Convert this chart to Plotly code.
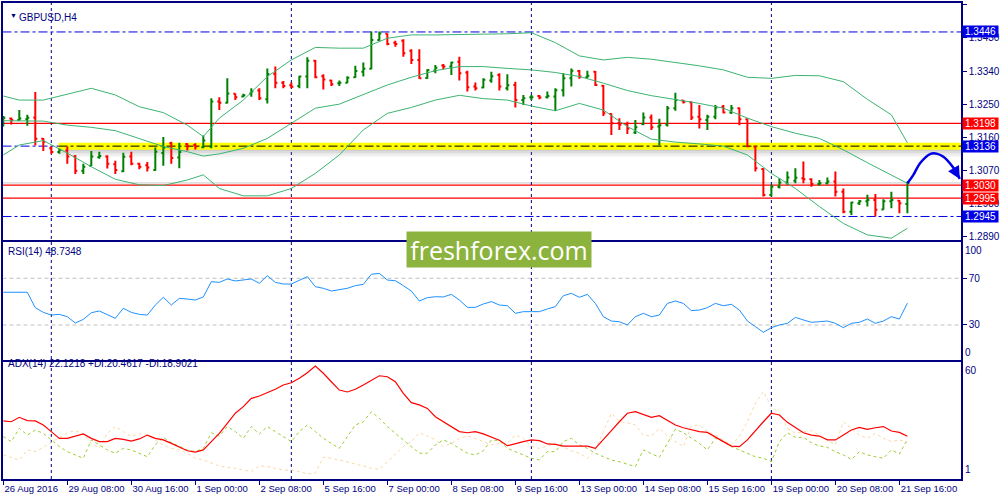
import pandas as pd
import plotly.graph_objects as go

# GBPUSD H4, 26 Aug - 21 Sep 2016
opens = [1.3207, 1.3211, 1.3207, 1.3209, 1.3214, 1.3156, 1.3130, 1.3120, 1.3124, 1.3108,
         1.3069, 1.3083, 1.3106, 1.3108, 1.3087, 1.3068, 1.3108, 1.3088, 1.3084, 1.3071,
         1.3117, 1.3144, 1.3105, 1.3142, 1.3139, 1.3133, 1.3135, 1.3257, 1.3254, 1.3278,
         1.3271, 1.3279, 1.3287, 1.3263, 1.3332, 1.3308, 1.3301, 1.3299, 1.3325, 1.3368,
         1.3326, 1.3314, 1.3307, 1.3308, 1.3323, 1.3338, 1.3346, 1.3424, 1.3441, 1.3417,
         1.3422, 1.3395, 1.3370, 1.3321, 1.3341, 1.3355, 1.3352, 1.3365, 1.3336, 1.3298,
         1.3295, 1.3314, 1.3329, 1.3293, 1.3302, 1.3261, 1.3269, 1.3272, 1.3269, 1.3271,
         1.3288, 1.3320, 1.3340, 1.3323, 1.3338, 1.3300, 1.3223, 1.3198, 1.3196, 1.3173,
         1.3196, 1.3214, 1.3189, 1.3194, 1.3239, 1.3260, 1.3255, 1.3216, 1.3207, 1.3216,
         1.3243, 1.3227, 1.3239, 1.3209, 1.3135, 1.3074, 1.3003, 1.3026, 1.3037, 1.3042,
         1.3049, 1.3046, 1.3033, 1.3035, 1.3040, 1.3012, 1.2958, 1.2981, 1.2986, 1.2990,
         1.2964, 1.2986, 1.2988, 1.2979]
highs = [1.3218, 1.3214, 1.3234, 1.3221, 1.3283, 1.3158, 1.3135, 1.3129, 1.3135, 1.3112,
         1.3088, 1.3123, 1.3121, 1.3111, 1.3096, 1.3118, 1.3121, 1.3091, 1.3093, 1.3132,
         1.3161, 1.3148, 1.3145, 1.3144, 1.3144, 1.3165, 1.3266, 1.3269, 1.3320, 1.3279,
         1.3278, 1.3293, 1.3293, 1.3347, 1.3352, 1.3313, 1.3309, 1.3327, 1.3377, 1.3370,
         1.3331, 1.3316, 1.3314, 1.3326, 1.3354, 1.3363, 1.3447, 1.3447, 1.3442, 1.3422,
         1.3426, 1.3399, 1.3399, 1.3345, 1.3356, 1.3359, 1.3365, 1.3379, 1.3341, 1.3309,
         1.3320, 1.3338, 1.3334, 1.3331, 1.3311, 1.3275, 1.3275, 1.3275, 1.3284, 1.3293,
         1.3334, 1.3347, 1.3343, 1.3341, 1.3340, 1.3302, 1.3225, 1.3212, 1.3202, 1.3207,
         1.3227, 1.3222, 1.3210, 1.3245, 1.3281, 1.3261, 1.3257, 1.3248, 1.3221, 1.3248,
         1.3248, 1.3248, 1.3241, 1.3211, 1.3136, 1.3076, 1.3031, 1.3049, 1.3067, 1.3076,
         1.3094, 1.3049, 1.3044, 1.3051, 1.3067, 1.3021, 1.2985, 1.2990, 1.3004, 1.3006,
         1.2992, 1.3012, 1.2990, 1.3040]
lows = [1.3189, 1.3195, 1.3205, 1.3191, 1.3138, 1.3123, 1.3115, 1.3115, 1.3088, 1.3060,
        1.3060, 1.3082, 1.3102, 1.3075, 1.3060, 1.3066, 1.3084, 1.3073, 1.3067, 1.3069,
        1.3083, 1.3088, 1.3076, 1.3124, 1.3127, 1.3130, 1.3130, 1.3234, 1.3252, 1.3261,
        1.3269, 1.3270, 1.3261, 1.3252, 1.3293, 1.3293, 1.3293, 1.3293, 1.3293, 1.3320,
        1.3290, 1.3299, 1.3299, 1.3307, 1.3322, 1.3325, 1.3345, 1.3422, 1.3410, 1.3406,
        1.3379, 1.3359, 1.3319, 1.3319, 1.3334, 1.3345, 1.3329, 1.3314, 1.3284, 1.3287,
        1.3293, 1.3308, 1.3287, 1.3287, 1.3241, 1.3248, 1.3261, 1.3263, 1.3265, 1.3232,
        1.3271, 1.3298, 1.3319, 1.3320, 1.3299, 1.3218, 1.3166, 1.3180, 1.3169, 1.3169,
        1.3193, 1.3180, 1.3138, 1.3189, 1.3232, 1.3252, 1.3207, 1.3184, 1.3180, 1.3209,
        1.3225, 1.3223, 1.3193, 1.3133, 1.3067, 1.2999, 1.2999, 1.3021, 1.3031, 1.3035,
        1.3035, 1.3026, 1.3029, 1.3032, 1.2999, 1.2954, 1.2949, 1.2976, 1.2972, 1.2945,
        1.2963, 1.2967, 1.2954, 1.2954]
closes = [1.3213, 1.3207, 1.3211, 1.3213, 1.3156, 1.3148, 1.3120, 1.3126, 1.3108, 1.3069,
          1.3080, 1.3108, 1.3109, 1.3088, 1.3071, 1.3107, 1.3088, 1.3080, 1.3078, 1.3121,
          1.3132, 1.3104, 1.3120, 1.3136, 1.3135, 1.3151, 1.3257, 1.3254, 1.3279, 1.3269,
          1.3274, 1.3284, 1.3266, 1.3332, 1.3308, 1.3299, 1.3297, 1.3325, 1.3368, 1.3323,
          1.3317, 1.3304, 1.3308, 1.3322, 1.3340, 1.3346, 1.3424, 1.3442, 1.3413, 1.3413,
          1.3388, 1.3370, 1.3320, 1.3343, 1.3349, 1.3352, 1.3363, 1.3334, 1.3296, 1.3293,
          1.3316, 1.3326, 1.3298, 1.3301, 1.3261, 1.3266, 1.3269, 1.3268, 1.3272, 1.3288,
          1.3320, 1.3341, 1.3325, 1.3327, 1.3302, 1.3225, 1.3198, 1.3194, 1.3184, 1.3187,
          1.3214, 1.3187, 1.3193, 1.3239, 1.3261, 1.3256, 1.3214, 1.3209, 1.3216, 1.3241,
          1.3227, 1.3239, 1.3209, 1.3136, 1.3076, 1.3003, 1.3026, 1.3037, 1.3051, 1.3050,
          1.3046, 1.3033, 1.3035, 1.3040, 1.3012, 1.2958, 1.2983, 1.2986, 1.2990, 1.2963,
          1.2986, 1.2990, 1.2981, 1.3036]

# Bollinger bands, sampled at these bar numbers
bb_bars = [0, 2, 5, 8, 11, 14, 17, 20, 23, 25, 27, 30, 33, 36, 39, 42, 45, 48, 51, 54,
           57, 60, 63, 66, 69, 72, 75, 78, 81, 84, 87, 90, 93, 96, 99, 102, 105, 108, 111, 113]
bb_upper = [1.3272, 1.3261, 1.3261, 1.3278, 1.3293, 1.3275, 1.3243, 1.3227, 1.3193, 1.3162,
            1.3212, 1.3261, 1.3325, 1.3370, 1.3404, 1.3402, 1.3402, 1.3429, 1.3438, 1.3438,
            1.3438, 1.3440, 1.3441, 1.3444, 1.3417, 1.3381, 1.3370, 1.3377, 1.3372, 1.3364,
            1.3354, 1.3343, 1.3323, 1.3320, 1.3328, 1.3327, 1.3311, 1.3263, 1.3221, 1.3145]
bb_mid = [1.3205, 1.3204, 1.3204, 1.3193, 1.3187, 1.3178, 1.3157, 1.3135, 1.3121, 1.3109,
          1.3115, 1.3130, 1.3157, 1.3198, 1.3239, 1.3250, 1.3275, 1.3302, 1.3323, 1.3341,
          1.3352, 1.3352, 1.3347, 1.3343, 1.3336, 1.3325, 1.3307, 1.3287, 1.3273, 1.3263,
          1.3252, 1.3239, 1.3212, 1.3189, 1.3171, 1.3157, 1.3126, 1.3091, 1.3058, 1.3035]
bb_lower = [1.3112, 1.3139, 1.3151, 1.3117, 1.3080, 1.3046, 1.3031, 1.3029, 1.3044, 1.3058,
            1.3021, 1.3001, 1.3001, 1.3021, 1.3062, 1.3112, 1.3180, 1.3225, 1.3241, 1.3261,
            1.3274, 1.3265, 1.3261, 1.3245, 1.3232, 1.3252, 1.3234, 1.3189, 1.3155, 1.3147,
            1.3142, 1.3136, 1.3112, 1.3062, 1.3021, 1.2972, 1.2926, 1.2895, 1.2886, 1.2913]

rsi = [58.0, 58.0, 58.0, 58.0, 44.8, 40.8, 38.5, 39.1, 37.1, 31.7,
       34.8, 40.5, 42.0, 39.1, 35.7, 44.3, 40.8, 39.1, 38.5, 47.1,
       53.7, 47.1, 52.8, 52.2, 51.4, 54.0, 67.1, 66.5, 69.4, 67.7,
       68.5, 69.4, 65.7, 72.2, 66.5, 65.1, 65.1, 68.5, 71.4, 62.8,
       61.4, 59.1, 60.0, 61.4, 63.7, 64.8, 73.4, 74.2, 68.5, 67.9,
       63.7, 59.1, 50.5, 53.4, 54.2, 54.0, 56.2, 51.4, 45.1, 45.1,
       48.0, 50.0, 47.1, 46.5, 40.0, 41.4, 41.4, 41.4, 43.7, 45.7,
       55.1, 57.1, 53.7, 56.2, 48.5, 37.1, 33.4, 32.8, 30.0, 37.1,
       40.0, 37.1, 38.5, 48.5, 50.5, 48.5, 42.3, 42.8, 44.8, 48.5,
       46.5, 47.7, 42.8, 33.4, 28.6, 23.7, 27.7, 30.0, 31.4, 36.5,
       34.3, 32.3, 32.8, 33.4, 31.4, 27.7, 31.4, 32.3, 35.1, 31.4,
       33.4, 37.1, 35.1, 48.7]

adx = [30.0, 29.6, 31.9, 30.2, 30.0, 27.9, 24.5, 21.0, 21.0, 22.2,
       23.3, 21.0, 19.3, 19.3, 21.0, 20.5, 19.6, 20.7, 22.7, 21.0,
       20.2, 18.4, 16.4, 14.6, 13.9, 15.0, 19.3, 23.6, 28.8, 34.0,
       37.4, 41.7, 42.9, 44.6, 46.4, 48.6, 49.8, 52.1, 55.0, 58.4,
       54.7, 50.3, 46.0, 45.0, 46.4, 48.6, 51.2, 53.4, 52.9, 50.3,
       44.3, 39.5, 38.3, 36.5, 32.2, 29.6, 27.1, 24.5, 23.9, 24.5,
       23.3, 21.5, 20.0, 17.2, 18.4, 19.3, 20.2, 19.8, 18.1, 17.9,
       17.0, 17.0, 17.0, 17.0, 15.8, 20.2, 25.0, 29.6, 34.0, 34.8,
       33.4, 31.9, 32.7, 30.5, 27.9, 26.5, 25.3, 24.5, 24.1, 21.5,
       19.3, 17.0, 16.7, 20.2, 25.0, 29.6, 34.0, 33.1, 29.3, 26.5,
       23.9, 22.7, 22.2, 20.2, 20.2, 22.7, 25.3, 26.7, 25.7, 26.5,
       27.1, 24.8, 24.1, 22.1]
plus_di = [21.9, 19.3, 26.2, 22.7, 25.3, 23.6, 20.2, 16.7, 14.1, 12.4,
           10.7, 20.2, 17.6, 15.0, 13.3, 15.8, 15.0, 13.3, 11.5, 17.6,
           21.5, 18.8, 16.7, 15.0, 14.1, 15.8, 23.9, 22.2, 27.1, 24.5,
           21.0, 27.1, 23.3, 27.1, 24.5, 21.9, 19.3, 24.5, 27.9, 24.5,
           21.0, 18.4, 15.8, 21.9, 27.9, 29.6, 34.8, 31.4, 27.1, 23.6,
           20.2, 16.7, 13.3, 13.3, 17.6, 20.2, 18.4, 15.8, 13.3, 12.4,
           14.6, 20.2, 19.8, 15.8, 14.1, 12.4, 10.7, 9.8, 14.1, 14.1,
           19.3, 21.0, 17.6, 15.8, 13.3, 11.5, 9.8, 8.9, 7.7, 6.4,
           15.0, 13.3, 11.2, 18.4, 25.7, 23.9, 21.0, 18.4, 15.0, 21.0,
           19.3, 16.7, 15.0, 13.3, 11.5, 10.7, 8.9, 19.3, 23.9, 21.5,
           21.5, 18.8, 17.0, 16.4, 14.1, 12.4, 10.1, 14.1, 12.4, 11.5,
           10.7, 15.0, 12.9, 20.5]
minus_di = [12.4, 11.2, 9.8, 15.0, 14.1, 16.4, 18.8, 21.5, 23.9, 25.0,
            23.3, 18.4, 15.8, 23.6, 27.1, 24.5, 21.9, 23.3, 22.7, 20.2,
            17.6, 15.8, 15.0, 13.3, 10.7, 9.8, 8.1, 6.7, 6.0, 5.5,
            4.6, 3.8, 6.7, 6.4, 5.5, 4.6, 4.6, 3.8, 2.6, 2.9,
            11.2, 10.7, 9.8, 8.9, 7.7, 6.7, 5.5, 5.0, 8.9, 12.9,
            16.7, 19.3, 23.9, 22.2, 20.2, 16.7, 18.4, 21.0, 22.2, 21.0,
            19.3, 17.6, 18.4, 18.4, 22.7, 21.0, 17.0, 15.8, 17.0, 18.4,
            16.4, 14.6, 13.3, 10.7, 15.0, 24.5, 34.0, 29.6, 29.1, 27.9,
            22.7, 22.2, 26.2, 22.2, 19.3, 16.7, 27.4, 27.9, 24.5, 22.7,
            20.2, 17.6, 21.9, 29.6, 39.1, 45.2, 37.4, 34.0, 26.2, 23.6,
            24.5, 25.0, 22.7, 20.2, 17.6, 29.6, 26.2, 22.7, 21.0, 23.6,
            21.0, 19.3, 20.2, 18.9]

# hand drawn forecast arc after the last bar
fc_bars = [113, 113.75, 114.6, 115.9, 116.75, 117.5, 118.75, 119.55]
fc_price = [1.3035, 1.3058, 1.3090, 1.3115, 1.3115, 1.3107, 1.3077, 1.3047]

blue_levels = [1.3446, 1.3136, 1.2945]
red_levels = [1.3198, 1.3030, 1.2995]
zone_level = 1.3136
zone_start = 6.9
price_ticks = [1.3520, 1.3430, 1.3340, 1.3250, 1.3160, 1.3070, 1.2980, 1.2890]
grid_bars = [6, 36, 66, 96]

times = pd.date_range("2016-08-26", "2016-09-23", freq="4h")
times = times[times.dayofweek < 5][:len(closes)]
bars = list(range(len(closes)))
tick_pos = bars[::8]
tick_text = [f"{t.day} {t:%b %Y}" if k == 0 else f"{t.day} {t:%b %H:%M}"
             for k, t in enumerate(times[::8])]

navy = "#000080"
blue = "#0000e6"
red = "#ff0000"
band_green = "#3cb371"
font = "Liberation Sans"
x_range = [-0.1, 119.7]
x_dom = [0.0025, 0.961]

fig = go.Figure()

for band in (bb_upper, bb_mid, bb_lower):
    fig.add_trace(go.Scatter(x=bb_bars, y=band, mode="lines",
                             line=dict(color=band_green, width=1), hoverinfo="skip"))

fig.add_trace(go.Ohlc(x=bars, open=opens, high=highs, low=lows, close=closes,
                      increasing=dict(line=dict(color="#008000", width=2)),
                      decreasing=dict(line=dict(color=red, width=2)),
                      tickwidth=0.25, hoverinfo="skip"))

fig.add_trace(go.Scatter(x=fc_bars, y=fc_price, mode="lines", cliponaxis=False,
                         line=dict(color=blue, width=2.5, shape="spline"), hoverinfo="skip"))

fig.add_trace(go.Scatter(x=bars, y=rsi, mode="lines", xaxis="x2", yaxis="y2",
                         line=dict(color="#1e90ff", width=1), hoverinfo="skip"))

fig.add_trace(go.Scatter(x=bars, y=plus_di, mode="lines", xaxis="x3", yaxis="y3",
                         line=dict(color="#9acd32", width=1, dash="3px,3px"), hoverinfo="skip"))
fig.add_trace(go.Scatter(x=bars, y=minus_di, mode="lines", xaxis="x3", yaxis="y3",
                         line=dict(color="#f8d8a8", width=1, dash="3px,3px"), hoverinfo="skip"))
fig.add_trace(go.Scatter(x=bars, y=adx, mode="lines", xaxis="x3", yaxis="y3",
                         line=dict(color=red, width=1.2), hoverinfo="skip"))

# yellow support zone with a soft shadow
for k, op in enumerate([0.35, 0.25, 0.15, 0.07]):
    fig.add_shape(type="rect", xref="x", yref="y", layer="below", line_width=0,
                  x0=zone_start, x1=x_range[1],
                  y0=zone_level - 0.0008 - 0.00055 * (k + 1), y1=zone_level - 0.0008 - 0.00055 * k,
                  fillcolor="#707070", opacity=op)
fig.add_shape(type="line", xref="x", yref="y", layer="below", x0=zone_start, x1=x_range[1],
              y0=zone_level, y1=zone_level, line=dict(color="#ffff00", width=7))

for lv in blue_levels:
    x1 = zone_start if lv == zone_level else x_range[1]
    fig.add_shape(type="line", xref="x", yref="y", layer="below", x0=x_range[0], x1=x1,
                  y0=lv, y1=lv, line=dict(color=blue, width=1, dash="dashdot"))
fig.add_shape(type="line", xref="x", yref="y", layer="below", x0=zone_start, x1=x_range[1],
              y0=zone_level, y1=zone_level, line=dict(color="#000000", width=1, dash="dashdot"))
for lv in red_levels:
    fig.add_shape(type="line", xref="x domain", yref="y", layer="below", x0=0, x1=1,
                  y0=lv, y1=lv, line=dict(color=red, width=1.2))
fig.add_shape(type="line", xref="x domain", yref="y", layer="below", x0=0, x1=1,
              y0=closes[-1], y1=closes[-1], line=dict(color="#c8c8c8", width=1))

for lv in (70, 30):
    fig.add_shape(type="line", xref="x2 domain", yref="y2", layer="below", x0=0, x1=1,
                  y0=lv, y1=lv, line=dict(color="#c0c0c0", width=1, dash="4px,3px"))

for g in grid_bars:
    fig.add_shape(type="line", xref="x", yref="paper", layer="below", x0=g, x1=g,
                  y0=0.042, y1=0.995, line=dict(color=navy, width=1, dash="3px,3px"))

# price tags on the right scale
for lv, col in [(v, blue) for v in blue_levels] + [(v, red) for v in red_levels]:
    fig.add_annotation(xref="paper", yref="y", x=0.962, y=lv, xanchor="left", text=f"{lv:.4f}",
                       showarrow=False, bgcolor=col, width=35, borderpad=0,
                       font=dict(family=font, size=10, color="white"))

fig.add_annotation(xref="x", yref="y", axref="x", ayref="y", x=fc_bars[-1], y=fc_price[-1],
                   ax=fc_bars[-2], ay=fc_price[-2], showarrow=True, arrowhead=2,
                   arrowsize=1, arrowwidth=2.5, arrowcolor=blue, text="")

txt = dict(family=font, size=10, color=navy)
fig.add_annotation(xref="paper", yref="paper", x=0.008, y=0.981, xanchor="left", text="▼",
                   showarrow=False, font=dict(family=font, size=7, color=navy))
fig.add_annotation(xref="paper", yref="paper", x=0.017, y=0.981, xanchor="left",
                   text="GBPUSD,H4", showarrow=False, font=txt)
fig.add_annotation(xref="paper", yref="paper", x=0.006, y=0.498, xanchor="left",
                   text="RSI(14) 48.7348", showarrow=False, font=txt)
fig.add_annotation(xref="paper", yref="paper", x=0.006, y=0.258, xanchor="left",
                   text="ADX(14) 22.1218 +DI:20.4617 -DI:18.9021", showarrow=False, font=txt)
for ref, val, anchor in [("y2", 100, "top"), ("y2", 0, "bottom"), ("y3", 60, "top"), ("y3", 1, "bottom")]:
    fig.add_annotation(xref="paper", yref=ref, x=0.963, y=val, xanchor="left", yanchor=anchor,
                       text=str(val), showarrow=False, font=txt)

fig.add_annotation(xref="paper", yref="paper", x=0.499, y=0.501, text="freshforex.com",
                   showarrow=False, bgcolor="#8db33f", width=182, height=33,
                   font=dict(family="Open Sans", size=25, color="white"))

xbase = dict(range=x_range, domain=x_dom, showgrid=False, zeroline=False, showline=True,
             linecolor=navy, linewidth=1.5, mirror=True, fixedrange=True)
ybase = dict(side="right", showgrid=False, zeroline=False, showline=True, linecolor=navy,
             linewidth=1.5, mirror=True, ticks="outside", ticklen=4, tickcolor=navy,
             tickfont=txt, fixedrange=True)

fig.update_layout(
    template="none",
    width=1000, height=500,
    margin=dict(l=0, r=0, t=0, b=0),
    paper_bgcolor="white", plot_bgcolor="white",
    showlegend=False, hovermode=False,
    font=dict(family=font, size=10, color=navy),
    xaxis=dict(**xbase, anchor="y", showticklabels=False, rangeslider=dict(visible=False)),
    xaxis2=dict(**xbase, anchor="y2", showticklabels=False),
    xaxis3=dict(**xbase, anchor="y3", tickvals=tick_pos, ticktext=tick_text, ticks="outside",
                ticklen=4, tickcolor=navy, tickangle=0, ticklabelposition="outside right",
                tickfont=dict(family=font, size=9.5, color=navy)),
    yaxis=dict(**ybase, domain=[0.52, 0.995], range=[1.28811, 1.35260],
               tickvals=price_ticks, tickformat=".4f"),
    yaxis2=dict(**ybase, domain=[0.28, 0.516], range=[0, 101.07], tickvals=[30, 70]),
    yaxis3=dict(**ybase, domain=[0.042, 0.276], range=[-0.04, 60.52], tickvals=[]),
)

# the page's default body margin would push the 1000x500 figure off the window
fig.write_html("out.html", config={"displayModeBar": False},
               post_script="document.body.style.margin = '0px';")
